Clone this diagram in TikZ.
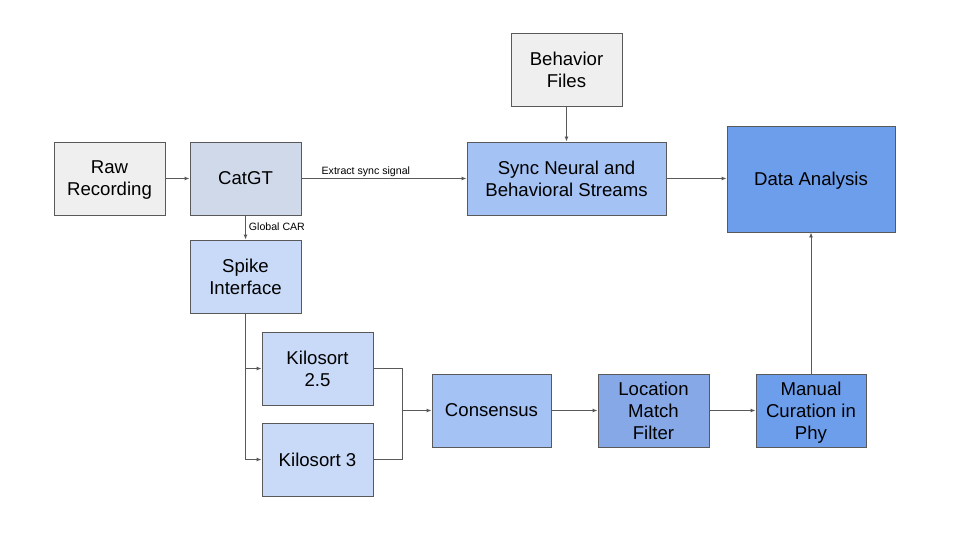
\documentclass[tikz,border=0pt]{standalone}
\usepackage{fontspec}
\setmainfont{Liberation Sans}
\usetikzlibrary{arrows.meta}
\definecolor{lgray}{HTML}{EFEFEF}
\definecolor{steel}{HTML}{D0D9EA}
\definecolor{pale}{HTML}{C9DAF8}
\definecolor{mid}{HTML}{A4C2F4}
\definecolor{deep}{HTML}{86A8E7}
\definecolor{strong}{HTML}{6D9EEB}
\definecolor{edge}{HTML}{595959}
\tikzset{
  box/.style={draw=edge, line width=0.9pt, align=center, font=\fontsize{18.6}{22}\selectfont, inner sep=0pt, text depth=0pt},
  conn/.style={draw=edge, line width=0.9pt, -{Latex[length=5pt,width=4pt]}},
  plain/.style={draw=edge, line width=0.9pt},
  lab/.style={font=\fontsize{10.6}{12}\selectfont, inner sep=1pt}
}
\begin{document}
\begin{tikzpicture}[x=1pt,y=-1pt]
\useasboundingbox (0,0) rectangle (960,540);
\node[box, fill=lgray, minimum width=111pt, minimum height=73pt] (raw) at (109.5,178.5) {Raw\\Recording};
\node[box, fill=steel, minimum width=111pt, minimum height=73pt] (cat) at (245.5,178.5) {CatGT};
\node[box, fill=lgray, minimum width=111pt, minimum height=73pt] (beh) at (566.5,69.5) {Behavior\\Files};
\node[box, fill=mid, minimum width=199pt, minimum height=73pt] (sync) at (566.5,178.5) {Sync Neural and\\Behavioral Streams};
\node[box, fill=strong, minimum width=168pt, minimum height=106pt] (da) at (811,179) {Data Analysis};
\node[box, fill=pale, minimum width=111pt, minimum height=73pt] (spike) at (245.5,276.5) {Spike\\Interface};
\node[box, fill=pale, minimum width=111pt, minimum height=73pt] (ks25) at (317.5,368.5) {Kilosort\\2.5};
\node[box, fill=pale, minimum width=111pt, minimum height=73pt] (ks3) at (317.5,459.5) {Kilosort 3};
\node[box, fill=mid, minimum width=119pt, minimum height=73pt] (cons) at (491.5,410.5) {Consensus};
\node[box, fill=deep, minimum width=111pt, minimum height=73pt] (loc) at (653.5,410.5) {Location\\Match\\Filter};
\node[box, fill=strong, minimum width=110pt, minimum height=73pt] (man) at (811,410.5) {Manual\\Curation in\\Phy};
\coordinate (split) at (245.5,459.5);
\coordinate (join) at (402,410.5);
\draw[conn] (raw) -- (cat);
\draw[conn] (cat) -- node[lab, above, pos=0.39] {Extract sync signal} (sync);
\draw[conn] (beh) -- (sync);
\draw[conn] (sync.east) -- (sync.east -| da.west);
\draw[conn] (cat) -- node[lab, right, pos=0.45, xshift=2pt] {Global CAR} (spike);
\draw[plain] (spike.south) -- (split);
\draw[conn] (ks25.west -| split) -- (ks25.west);
\draw[conn] (split) -- (ks3.west);
\draw[plain] (ks25.east) -| (join);
\draw[plain] (ks3.east) -| (join);
\draw[conn] (join) -- (cons.west);
\draw[conn] (cons) -- (loc);
\draw[conn] (loc) -- (man);
\draw[conn] (man) -- (da);
\end{tikzpicture}
\end{document}
